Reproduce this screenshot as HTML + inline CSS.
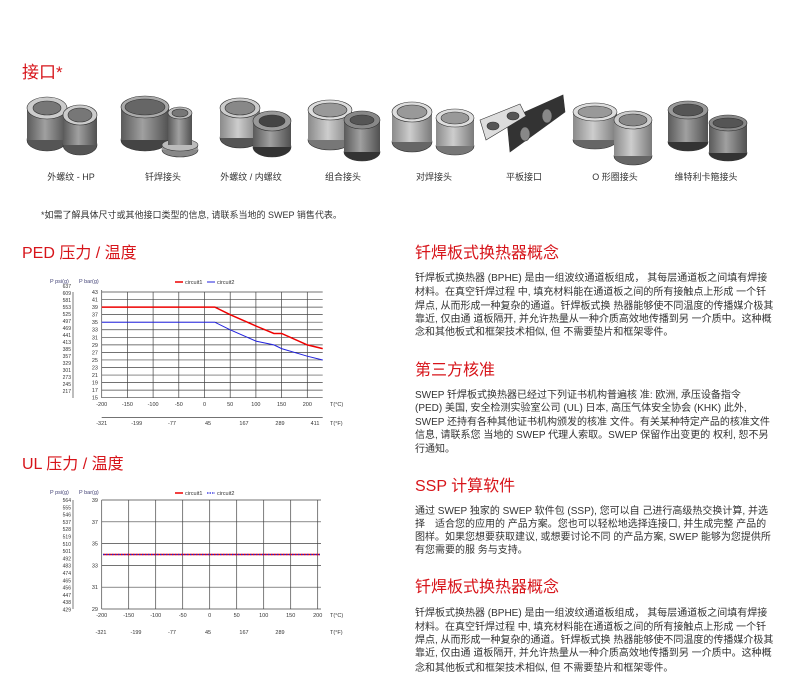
<!DOCTYPE html>
<html><head><meta charset="utf-8"><style>
body{margin:0;background:#fff;}
svg{display:block;font-family:"Liberation Sans","Noto Sans CJK SC",sans-serif;}
.t{font-size:10px;fill:#333;}
.h{font-size:16px;fill:#d7141a;}
.ax{font-size:5.5px;fill:#333;}
.ps{font-size:5px;fill:#333;}
</style></head><body>
<svg width="800" height="700" viewBox="0 0 800 700" xmlns="http://www.w3.org/2000/svg">
<defs>
<linearGradient id="g" x1="0" x2="1"><stop offset="0" stop-color="#5a5a5a"/><stop offset=".45" stop-color="#a0a0a0"/><stop offset="1" stop-color="#505050"/></linearGradient>
<linearGradient id="gl" x1="0" x2="1"><stop offset="0" stop-color="#8a8a8a"/><stop offset=".45" stop-color="#cdcdcd"/><stop offset="1" stop-color="#7a7a7a"/></linearGradient>
</defs>
<text x="22" y="78" style="font-size:17px;fill:#d7141a">接口*</text>
<g stroke="#333" stroke-width=".6">
<g><ellipse cx="47" cy="140" rx="20" ry="11" fill="#555"/><rect x="27" y="108" width="40" height="32" fill="url(#g)" stroke="none"/><ellipse cx="47" cy="108" rx="20" ry="11" fill="#ccc"/><ellipse cx="47" cy="108" rx="14" ry="7" fill="#777"/></g>
<g><ellipse cx="80" cy="145" rx="17" ry="10" fill="#555"/><rect x="63" y="115" width="34" height="30" fill="url(#g)" stroke="none"/><ellipse cx="80" cy="115" rx="17" ry="10" fill="#ccc"/><ellipse cx="80" cy="115" rx="12" ry="7" fill="#777"/></g>
<g><ellipse cx="145" cy="140" rx="24" ry="11" fill="#444"/><rect x="121" y="107" width="48" height="33" fill="url(#g)" stroke="none"/><ellipse cx="145" cy="107" rx="24" ry="11" fill="#aaa"/><ellipse cx="145" cy="107" rx="20" ry="8" fill="#666"/></g>
<g><ellipse cx="180" cy="150" rx="18" ry="7" fill="#888"/><rect x="162" y="145" width="36" height="5" fill="#999" stroke="none"/><ellipse cx="180" cy="145" rx="18" ry="6" fill="#bbb"/><rect x="168" y="113" width="24" height="32" fill="url(#g)" stroke="none"/><ellipse cx="180" cy="113" rx="12" ry="6" fill="#bbb"/><ellipse cx="180" cy="113" rx="8" ry="4" fill="#777"/></g>
<g><ellipse cx="240" cy="138" rx="20" ry="10" fill="#555"/><rect x="220" y="108" width="40" height="30" fill="url(#gl)" stroke="none"/><ellipse cx="240" cy="108" rx="20" ry="10" fill="#ccc"/><ellipse cx="240" cy="108" rx="15" ry="7" fill="#888"/></g>
<g><ellipse cx="272" cy="147" rx="19" ry="10" fill="#333"/><rect x="253" y="121" width="38" height="26" fill="url(#g)" stroke="none"/><ellipse cx="272" cy="121" rx="19" ry="10" fill="#999"/><ellipse cx="272" cy="121" rx="13" ry="6" fill="#444"/></g>
<g><ellipse cx="330" cy="140" rx="22" ry="10" fill="#777"/><rect x="308" y="110" width="44" height="30" fill="url(#gl)" stroke="none"/><ellipse cx="330" cy="110" rx="22" ry="10" fill="#ddd"/><ellipse cx="330" cy="110" rx="17" ry="7" fill="#999"/></g>
<g><ellipse cx="362" cy="152" rx="18" ry="9" fill="#333"/><rect x="344" y="120" width="36" height="32" fill="url(#g)" stroke="none"/><ellipse cx="362" cy="120" rx="18" ry="9" fill="#888"/><ellipse cx="362" cy="120" rx="12" ry="5" fill="#555"/></g>
<g><ellipse cx="412" cy="142" rx="20" ry="10" fill="#666"/><rect x="392" y="112" width="40" height="30" fill="url(#gl)" stroke="none"/><ellipse cx="412" cy="112" rx="20" ry="10" fill="#ddd"/><ellipse cx="412" cy="112" rx="15" ry="7" fill="#999"/></g>
<g><ellipse cx="455" cy="146" rx="19" ry="9" fill="#777"/><rect x="436" y="118" width="38" height="28" fill="url(#gl)" stroke="none"/><ellipse cx="455" cy="118" rx="19" ry="9" fill="#ddd"/><ellipse cx="455" cy="118" rx="14" ry="6" fill="#999"/></g>
<polygon points="507,120 563,95 565,112 510,152" fill="#333"/>
<polygon points="480,120 520,104 526,116 486,140" fill="#ddd"/>
<ellipse cx="493" cy="126" rx="6" ry="4" fill="#555"/><ellipse cx="513" cy="116" rx="6" ry="4" fill="#555"/>
<ellipse cx="525" cy="134" rx="5" ry="7" fill="#888"/><ellipse cx="547" cy="116" rx="5" ry="7" fill="#888"/>
<g><ellipse cx="595" cy="140" rx="22" ry="9" fill="#666"/><rect x="573" y="112" width="44" height="28" fill="url(#gl)" stroke="none"/><ellipse cx="595" cy="112" rx="22" ry="9" fill="#ddd"/><ellipse cx="595" cy="112" rx="17" ry="6" fill="#999"/></g>
<g><ellipse cx="633" cy="156" rx="19" ry="9" fill="#666"/><rect x="614" y="120" width="38" height="36" fill="url(#gl)" stroke="none"/><ellipse cx="633" cy="120" rx="19" ry="9" fill="#ccc"/><ellipse cx="633" cy="120" rx="14" ry="6" fill="#888"/></g>
<g><ellipse cx="688" cy="142" rx="20" ry="9" fill="#333"/><rect x="668" y="110" width="40" height="32" fill="url(#g)" stroke="none"/><ellipse cx="688" cy="110" rx="20" ry="9" fill="#999"/><ellipse cx="688" cy="110" rx="15" ry="6" fill="#555"/></g>
<g><ellipse cx="728" cy="153" rx="19" ry="8" fill="#333"/><rect x="709" y="123" width="38" height="30" fill="url(#g)" stroke="none"/><ellipse cx="728" cy="123" rx="19" ry="8" fill="#888"/><ellipse cx="728" cy="123" rx="15" ry="5" fill="#555"/></g>
</g>
<g style="font-size:9px;fill:#333" text-anchor="middle">
<text x="71" y="180">外螺纹 - HP</text><text x="163" y="180">钎焊接头</text><text x="251" y="180">外螺纹 / 内螺纹</text><text x="343" y="180">组合接头</text>
<text x="434" y="180">对焊接头</text><text x="524" y="180">平板接口</text><text x="615" y="180">O 形圈接头</text><text x="706" y="180">维特利卡箍接头</text>
</g>
<text x="41" y="218" style="font-size:9px;fill:#333">*如需了解具体尺寸或其他接口类型的信息, 请联系当地的 SWEP 销售代表。</text>

<text x="22" y="258" class="h">PED 压力 / 温度</text>
<text x="22" y="469" class="h">UL 压力 / 温度</text>

<g class="ax">
<text x="50" y="283" fill="#447">P psi(g)</text><text x="79" y="283" fill="#447">P bar(g)</text>
<line x1="175" y1="282" x2="183" y2="282" stroke="#e00" stroke-width="1.5"/><text x="185" y="284">circuit1</text>
<line x1="207" y1="282" x2="215" y2="282" stroke="#22d" stroke-width="1"/><text x="217" y="284">circuit2</text>
</g>
<g stroke="#444" stroke-width=".7">
<line x1="73" y1="292" x2="73" y2="398"/>
<line x1="101.7" y1="290" x2="101.7" y2="398"/>
<line x1="101.7" y1="292" x2="322.7" y2="292"/><line x1="101.7" y1="299.55" x2="322.7" y2="299.55"/><line x1="101.7" y1="307.1" x2="322.7" y2="307.1"/><line x1="101.7" y1="314.65" x2="322.7" y2="314.65"/><line x1="101.7" y1="322.2" x2="322.7" y2="322.2"/><line x1="101.7" y1="329.75" x2="322.7" y2="329.75"/><line x1="101.7" y1="337.3" x2="322.7" y2="337.3"/><line x1="101.7" y1="344.85" x2="322.7" y2="344.85"/><line x1="101.7" y1="352.4" x2="322.7" y2="352.4"/><line x1="101.7" y1="359.95" x2="322.7" y2="359.95"/><line x1="101.7" y1="367.5" x2="322.7" y2="367.5"/><line x1="101.7" y1="375.05" x2="322.7" y2="375.05"/><line x1="101.7" y1="382.6" x2="322.7" y2="382.6"/><line x1="101.7" y1="390.15" x2="322.7" y2="390.15"/><line x1="101.7" y1="397.7" x2="322.7" y2="397.7"/>
<line x1="127.4" y1="292" x2="127.4" y2="398"/><line x1="153.1" y1="292" x2="153.1" y2="398"/><line x1="178.8" y1="292" x2="178.8" y2="398"/><line x1="204.5" y1="292" x2="204.5" y2="398"/><line x1="230.2" y1="292" x2="230.2" y2="398"/><line x1="255.9" y1="292" x2="255.9" y2="398"/><line x1="281.6" y1="292" x2="281.6" y2="398"/><line x1="307.3" y1="292" x2="307.3" y2="398"/>
<line x1="101.7" y1="417.5" x2="322.7" y2="417.5"/>
</g>
<polyline points="101.7,307.1 214.8,307.1 230.2,314.7 255.9,326 273.9,333.5 281.6,333.5 307.3,344.9 322.7,348.6" fill="none" stroke="#e00" stroke-width="1.5"/>
<polyline points="101.7,322.2 214.8,322.2 230.2,329.8 255.9,341.1 273.9,344.9 281.6,348.6 307.3,356.2 322.7,360" fill="none" stroke="#22d" stroke-width="1"/>
<g class="ax" text-anchor="end">
<text x="98" y="294">43</text><text x="98" y="301.5">41</text><text x="98" y="309">39</text><text x="98" y="316.6">37</text><text x="98" y="324.2">35</text><text x="98" y="331.7">33</text><text x="98" y="339.3">31</text><text x="98" y="346.8">29</text><text x="98" y="354.4">27</text><text x="98" y="362">25</text><text x="98" y="369.5">23</text><text x="98" y="377">21</text><text x="98" y="384.6">19</text><text x="98" y="392.1">17</text><text x="98" y="399.7">15</text>
</g>
<g class="ps" text-anchor="end">
<text x="71" y="288">637</text><text x="71" y="295">609</text><text x="71" y="302">581</text><text x="71" y="309">553</text><text x="71" y="316">525</text><text x="71" y="323">497</text><text x="71" y="330">469</text><text x="71" y="337">441</text><text x="71" y="344">413</text><text x="71" y="351">385</text><text x="71" y="358">357</text><text x="71" y="365">329</text><text x="71" y="372">301</text><text x="71" y="379">273</text><text x="71" y="386">245</text><text x="71" y="393">217</text>
</g>
<g class="ax" text-anchor="middle">
<text x="101.7" y="406">-200</text><text x="127.4" y="406">-150</text><text x="153.1" y="406">-100</text><text x="178.8" y="406">-50</text><text x="204.5" y="406">0</text><text x="230.2" y="406">50</text><text x="255.9" y="406">100</text><text x="281.6" y="406">150</text><text x="307.3" y="406">200</text>
<text x="101.7" y="425">-321</text><text x="136.7" y="425">-199</text><text x="172" y="425">-77</text><text x="208" y="425">45</text><text x="244" y="425">167</text><text x="280" y="425">289</text><text x="315" y="425">411</text>
</g>
<text x="330" y="406" class="ax">T(°C)</text><text x="330" y="425" class="ax">T(°F)</text>

<g class="ax">
<text x="50" y="494" fill="#447">P psi(g)</text><text x="79" y="494" fill="#447">P bar(g)</text>
<line x1="175" y1="493" x2="183" y2="493" stroke="#e00" stroke-width="1.5"/><text x="185" y="495">circuit1</text>
<line x1="207" y1="493" x2="215" y2="493" stroke="#22d" stroke-width="1.2" stroke-dasharray="1.5,1"/><text x="217" y="495">circuit2</text>
</g>
<g stroke="#444" stroke-width=".7">
<line x1="73" y1="500" x2="73" y2="609"/>
<line x1="101.7" y1="500" x2="101.7" y2="609"/>
<line x1="101.7" y1="500" x2="321" y2="500"/><line x1="101.7" y1="521.8" x2="321" y2="521.8"/><line x1="101.7" y1="543.6" x2="321" y2="543.6"/><line x1="101.7" y1="565.4" x2="321" y2="565.4"/><line x1="101.7" y1="587.2" x2="321" y2="587.2"/><line x1="101.7" y1="609" x2="321" y2="609"/>
<line x1="128.7" y1="500" x2="128.7" y2="609"/><line x1="155.7" y1="500" x2="155.7" y2="609"/><line x1="182.7" y1="500" x2="182.7" y2="609"/><line x1="209.7" y1="500" x2="209.7" y2="609"/><line x1="236.7" y1="500" x2="236.7" y2="609"/><line x1="263.7" y1="500" x2="263.7" y2="609"/><line x1="290.7" y1="500" x2="290.7" y2="609"/><line x1="317.7" y1="500" x2="317.7" y2="609"/>
</g>
<line x1="103" y1="554.5" x2="320" y2="554.5" stroke="#e00" stroke-width="1.5"/>
<line x1="103" y1="554.5" x2="320" y2="554.5" stroke="#22d" stroke-width="1.2" stroke-dasharray="1.5,1.5"/>
<g class="ax" text-anchor="end">
<text x="98" y="502">39</text><text x="98" y="523.8">37</text><text x="98" y="545.6">35</text><text x="98" y="567.4">33</text><text x="98" y="589.2">31</text><text x="98" y="611">29</text>
</g>
<g class="ps" text-anchor="end">
<text x="71" y="502">564</text><text x="71" y="509.3">555</text><text x="71" y="516.6">546</text><text x="71" y="523.9">537</text><text x="71" y="531.2">528</text><text x="71" y="538.5">519</text><text x="71" y="545.8">510</text><text x="71" y="553.1">501</text><text x="71" y="560.4">492</text><text x="71" y="567.7">483</text><text x="71" y="575">474</text><text x="71" y="582.3">465</text><text x="71" y="589.6">456</text><text x="71" y="596.9">447</text><text x="71" y="604.2">438</text><text x="71" y="611.5">429</text>
</g>
<g class="ax" text-anchor="middle">
<text x="101.7" y="617">-200</text><text x="128.7" y="617">-150</text><text x="155.7" y="617">-100</text><text x="182.7" y="617">-50</text><text x="209.7" y="617">0</text><text x="236.7" y="617">50</text><text x="263.7" y="617">100</text><text x="290.7" y="617">150</text><text x="317.7" y="617">200</text>
<text x="101" y="634">-321</text><text x="136" y="634">-199</text><text x="172" y="634">-77</text><text x="208" y="634">45</text><text x="244" y="634">167</text><text x="280" y="634">289</text>
</g>
<text x="330" y="617" class="ax">T(°C)</text><text x="330" y="634" class="ax">T(°F)</text>

<text x="415" y="258" class="h">钎焊板式换热器概念</text>
<g class="t">
<text x="415" y="281">钎焊板式换热器 (BPHE) 是由一组波纹通道板组成， 其每层通道板之间填有焊接</text>
<text x="415" y="295">材料。在真空钎焊过程 中, 填充材料能在通道板之间的所有接触点上形成 一个钎</text>
<text x="415" y="309">焊点, 从而形成一种复杂的通道。钎焊板式换 热器能够使不同温度的传播媒介极其</text>
<text x="415" y="322">靠近, 仅由通 道板隔开, 并允许热量从一种介质高效地传播到另 一介质中。这种概</text>
<text x="415" y="335">念和其他板式和框架技术相似, 但 不需要垫片和框架零件。</text>
</g>
<text x="415" y="375" class="h">第三方核准</text>
<g class="t">
<text x="415" y="398">SWEP 钎焊板式换热器已经过下列证书机构普遍核 准: 欧洲, 承压设备指令</text>
<text x="415" y="411">(PED) 美国, 安全检测实验室公司 (UL) 日本, 高压气体安全协会 (KHK) 此外,</text>
<text x="415" y="425">SWEP 还持有各种其他证书机构颁发的核准 文件。有关某种特定产品的核准文件</text>
<text x="415" y="438">信息, 请联系您 当地的 SWEP 代理人索取。SWEP 保留作出变更的 权利, 恕不另</text>
<text x="415" y="452">行通知。</text>
</g>
<text x="415" y="491" class="h">SSP 计算软件</text>
<g class="t">
<text x="415" y="514">通过 SWEP 独家的 SWEP 软件包 (SSP), 您可以自 己进行高级热交换计算, 并选</text>
<text x="415" y="527">择　适合您的应用的 产品方案。您也可以轻松地选择连接口, 并生成完整 产品的</text>
<text x="415" y="540">图样。如果您想要获取建议, 或想要讨论不同 的产品方案, SWEP 能够为您提供所</text>
<text x="415" y="553">有您需要的服 务与支持。</text>
</g>
<text x="415" y="592" class="h">钎焊板式换热器概念</text>
<g class="t">
<text x="415" y="616">钎焊板式换热器 (BPHE) 是由一组波纹通道板组成， 其每层通道板之间填有焊接</text>
<text x="415" y="630">材料。在真空钎焊过程 中, 填充材料能在通道板之间的所有接触点上形成 一个钎</text>
<text x="415" y="643">焊点, 从而形成一种复杂的通道。钎焊板式换 热器能够使不同温度的传播媒介极其</text>
<text x="415" y="656">靠近, 仅由通 道板隔开, 并允许热量从一种介质高效地传播到另 一介质中。这种概</text>
<text x="415" y="671">念和其他板式和框架技术相似, 但 不需要垫片和框架零件。</text>
</g>
</svg>
</body></html>
